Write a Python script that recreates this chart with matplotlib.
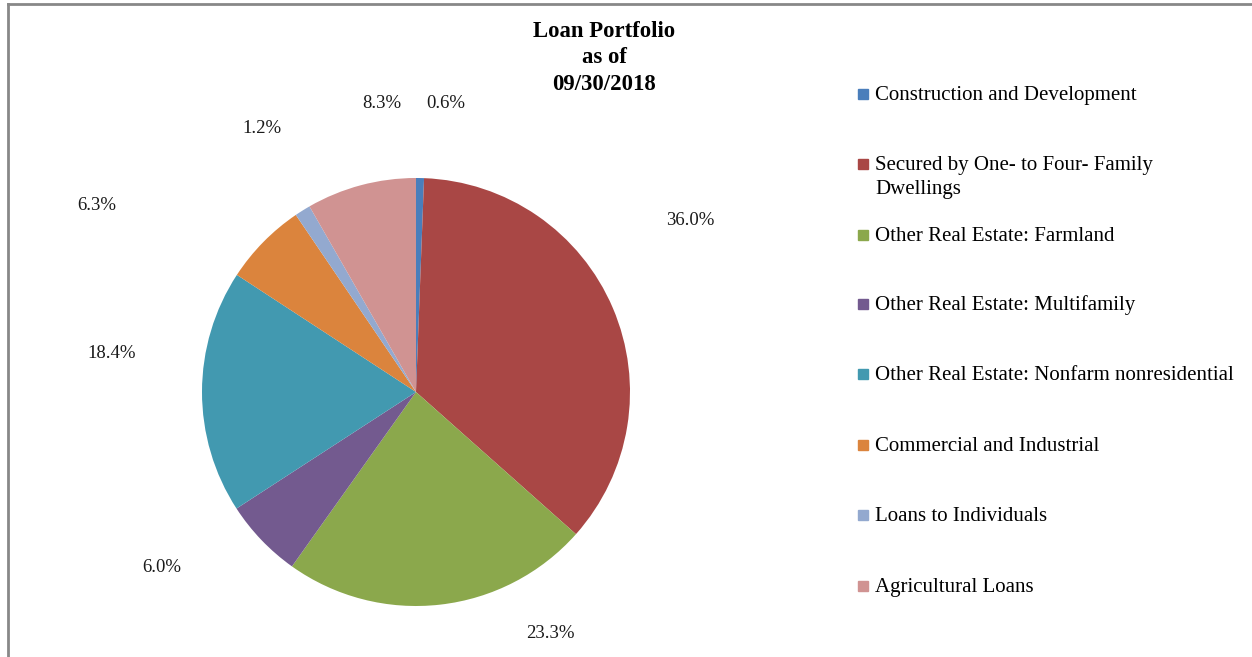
import matplotlib.pyplot as plt
from matplotlib.patches import Rectangle
from matplotlib.lines import Line2D

plt.rcParams['font.family'] = ['Liberation Serif', 'DejaVu Serif']

categories = ['Construction and Development',
              'Secured by One- to Four- Family\nDwellings',
              'Other Real Estate: Farmland',
              'Other Real Estate: Multifamily',
              'Other Real Estate: Nonfarm nonresidential',
              'Commercial and Industrial',
              'Loans to Individuals',
              'Agricultural Loans']
shares = [0.6, 36.0, 23.3, 6.0, 18.4, 6.3, 1.2, 8.3]
colors = ['#4A7EBB', '#A94745', '#8BA84C', '#735A8F', '#4299B0', '#DB843D', '#93A9CF', '#D09392']

# label spots (in pie radius units), roughly where Excel put them
label_xy = [(0.14, 1.35), (1.28, 0.80), (0.63, -1.13), (-1.19, -0.82),
            (-1.42, 0.18), (-1.49, 0.87), (-0.72, 1.23), (-0.16, 1.35)]

W, H = 1252, 657
fig = plt.figure(figsize=(W / 100, H / 100), dpi=100)

# pie centre at (416, 392) px, radius 214 px
cx, cy, r = 416, 392, 214
ax = fig.add_axes([(cx - r) / W, (H - cy - r) / H, 2 * r / W, 2 * r / H])
ax.pie(shares, colors=colors, startangle=90, counterclock=False, radius=1,
       wedgeprops=dict(linewidth=0))
ax.set_xlim(-1, 1)
ax.set_ylim(-1, 1)
ax.set_aspect('equal')
ax.axis('off')

for v, (x, y) in zip(shares, label_xy):
    ax.text(x, y, f'{v:.1f}%', ha='center', va='center', fontsize=13.5,
            color='#1a1a1a')

# title, one line at a time
title_lines = ['Loan Portfolio', 'as of', '09/30/2018']
for t, y in zip(title_lines, [37, 63, 90]):
    fig.text(604 / W, 1 - y / H, t, ha='center', va='baseline',
             fontsize=16.4, fontweight='bold')

# legend drawn by hand to match Excel spacing
leg_y = [94, 164, 235, 304, 374, 445, 515, 586]
for lab, c, y in zip(categories, colors, leg_y):
    fig.patches.append(Rectangle((858 / W, 1 - (y + 5) / H), 10 / W, 10 / H,
                                 transform=fig.transFigure, color=c))
    for i, line in enumerate(lab.split('\n')):
        fig.text(875 / W, 1 - (y + 6 + 24 * i) / H, line, ha='left',
                 va='baseline', fontsize=15)

# frame: only top and left edges show in the crop
fig.lines.append(Line2D([8 / W, 8 / W], [0, 1 - 4 / H], transform=fig.transFigure,
                        color='#888888', linewidth=2))
fig.lines.append(Line2D([8 / W, 1], [1 - 4 / H, 1 - 4 / H], transform=fig.transFigure,
                        color='#888888', linewidth=2))

fig.savefig('out.png', dpi=100)
